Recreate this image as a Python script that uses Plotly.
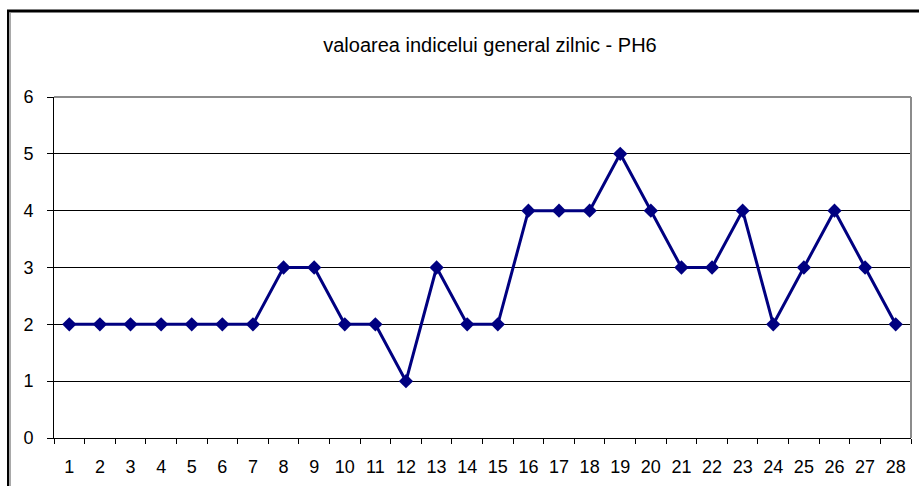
import plotly.graph_objects as go

days = [str(i) for i in range(1, 29)]
values = [2, 2, 2, 2, 2, 2, 2, 3, 3, 2, 2, 1, 3, 2, 2, 4, 4, 4, 5, 4, 3, 3, 4, 2, 3, 4, 3, 2]
y_ticks = [0, 1, 2, 3, 4, 5, 6]
title = "valoarea indicelui general zilnic - PH6"

W, H = 919, 486
L, R, T, B = 54, 911, 97, 438
pw, ph = R - L, B - T

def px(x):
    return (x - L) / pw

def py(y):
    return (B - y) / ph

fig = go.Figure()
fig.add_trace(go.Scatter(
    x=days, y=values, mode="lines+markers",
    line=dict(color="#000080", width=3),
    marker=dict(symbol="diamond", size=11, color="#000080"),
    showlegend=False, cliponaxis=False,
))

fig.update_layout(
    width=W, height=H,
    margin=dict(l=L, r=W - R, t=T, b=H - B, pad=0, autoexpand=False),
    paper_bgcolor="white", plot_bgcolor="white",
    font=dict(family="Liberation Sans, Arial, sans-serif", size=18, color="black"),
    title=dict(text=title, x=px(490), xref="paper", xanchor="center",
               y=1 - 45 / H, yanchor="middle", automargin=False,
               font=dict(size=20, color="black")),
    xaxis=dict(type="category", showgrid=False, showline=True, linecolor="black", linewidth=1,
               ticks="outside", ticklen=5, tickcolor="black", tickson="boundaries",
               zeroline=False, range=[-0.5, 27.5], fixedrange=True, automargin=False,
               ticklabelstandoff=12, tickfont=dict(size=18)),
    yaxis=dict(range=[0, 6], tickvals=y_ticks, showgrid=True, gridcolor="black", gridwidth=1,
               showline=True, linecolor="black", linewidth=1, ticks="outside", ticklen=6,
               tickcolor="black", zeroline=False, fixedrange=True, automargin=False,
               ticklabelstandoff=10, tickfont=dict(size=18)),
    shapes=[
        # plot area top/right gray border
        dict(type="line", xref="paper", yref="paper", x0=0, x1=1, y0=1, y1=1,
             line=dict(color="#8c8c8c", width=2), layer="above"),
        dict(type="line", xref="paper", yref="paper", x0=1, x1=1, y0=0, y1=1,
             line=dict(color="#8c8c8c", width=2), layer="above"),
        # outer frame
        dict(type="line", xref="paper", yref="paper", x0=px(7), x1=px(925), y0=py(11), y1=py(11),
             line=dict(color="black", width=3)),
        dict(type="line", xref="paper", yref="paper", x0=px(8), x1=px(8), y0=py(11), y1=py(495),
             line=dict(color="black", width=2)),
        dict(type="line", xref="paper", yref="paper", x0=px(10), x1=px(10), y0=py(12), y1=py(495),
             line=dict(color="#8c8c8c", width=1.5)),
    ],
)

fig.write_html("out.html", config={"displayModeBar": False},
               post_script="document.body.style.margin='0';document.body.style.overflow='hidden';")
